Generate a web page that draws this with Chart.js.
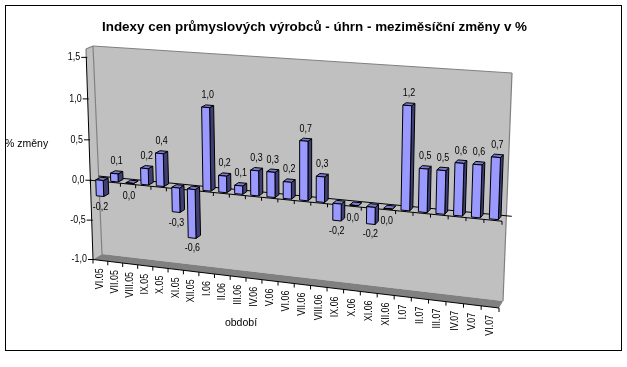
<!DOCTYPE html>
<html lang="cs">
<head>
<meta charset="utf-8">
<title>Indexy cen</title>
<style>html,body{margin:0;padding:0;background:#fff}canvas{display:block}</style>
<script src="https://cdn.jsdelivr.net/npm/chart.js@4"></script>
</head>
<body>
<canvas id="c" width="627" height="367"></canvas>
<script>
const chartTitle = 'Indexy cen průmyslových výrobců - úhrn - meziměsíční změny v %';
const xTitle = 'období';
const yTitle = '% změny';
const categories = ['VI.05','VII.05','VIII.05','IX.05','X.05','XI.05','XII.05','I.06','II.06','III.06','IV.06','V.06','VI.06','VII.06','VIII.06','IX.06','X.06','XI.06','XII.06','I.07','II.07','III.07','IV.07','V.07','VI.07'];
const changes = [-0.2,0.1,0.0,0.2,0.4,-0.3,-0.6,1.0,0.2,0.1,0.3,0.3,0.2,0.7,0.3,-0.2,0.0,-0.2,0.0,1.2,0.5,0.5,0.6,0.6,0.7];
const yMin = -1.0, yMax = 1.6, yStep = 0.5;

const FONT = '"Liberation Sans", Arial, sans-serif';
const FRONT = [[86,49],[507,77],[499,308],[93,259.5]];
const BACK  = [[93,46],[512,73],[503,301],[102,254]];
const BAR_D0 = 0.2, BAR_D1 = 0.8;

function homography(q){
  const [[x0,y0],[x1,y1],[x2,y2],[x3,y3]] = q;
  const dx1=x1-x2, dx2=x3-x2, sx=x0-x1+x2-x3, dy1=y1-y2, dy2=y3-y2, sy=y0-y1+y2-y3;
  const det=dx1*dy2-dx2*dy1;
  const g=(sx*dy2-dx2*sy)/det, h=(dx1*sy-sx*dy1)/det;
  const a=x1-x0+g*x1, b=x3-x0+h*x3, d=y1-y0+g*y1, e=y3-y0+h*y3;
  return (u,v)=>{const w=g*u+h*v+1;return [(a*u+b*v+x0)/w,(d*u+e*v+y0)/w];};
}
const Hf = homography(FRONT), Hb = homography(BACK);
function project(u,v,d){
  const f=Hf(u,v), b=Hb(u,v);
  return [f[0]+(b[0]-f[0])*d, f[1]+(b[1]-f[1])*d];
}
function poly(ctx,pts,fill,stroke,lw){
  ctx.beginPath();
  pts.forEach((p,i)=>i?ctx.lineTo(p[0],p[1]):ctx.moveTo(p[0],p[1]));
  ctx.closePath();
  if(fill){ctx.fillStyle=fill;ctx.fill();}
  if(stroke){ctx.strokeStyle=stroke;ctx.lineWidth=lw||1;ctx.stroke();}
}
function seg(ctx,a,b,color,lw){
  ctx.beginPath();ctx.moveTo(a[0],a[1]);ctx.lineTo(b[0],b[1]);
  ctx.strokeStyle=color;ctx.lineWidth=lw||1;ctx.stroke();
}
function text(ctx,s,x,y,align,size,rot,squeeze){
  ctx.save();
  ctx.translate(x,y);
  if(rot)ctx.rotate(rot);
  if(squeeze)ctx.scale(squeeze,1);
  ctx.font=size+'px '+FONT;
  ctx.fillStyle='#000';
  ctx.textAlign=align;
  ctx.textBaseline='middle';
  ctx.fillText(s,0,0);
  ctx.restore();
}
const fmt = v => v.toFixed(1).replace('.',',');

const scene = {
  id:'scene',
  beforeDraw(chart){
    const c=chart.ctx;
    c.save();
    c.fillStyle='#fff';c.fillRect(0,0,chart.width,chart.height);
    c.strokeStyle='#000';c.lineWidth=1;c.strokeRect(5.5,5.5,616,345);
    c.restore();
  },
  beforeDatasetsDraw(chart){
    const c=chart.ctx, y=chart.scales.y, a=chart.chartArea;
    const vOf=val=>(y.getPixelForValue(val)-a.top)/(a.bottom-a.top);
    const v0=vOf(0), n=categories.length;
    c.save();
    poly(c,BACK,'#C0C0C0');
    poly(c,[Hf(0,0),Hf(0,1),Hb(0,1),Hb(0,0)],'#C0C0C0');
    poly(c,[Hf(0,1),Hf(1,1),Hb(1,1),Hb(0,1)],'#808080');
    const gray='#808080';
    seg(c,Hf(0,0),Hb(0,0),gray,1.2);
    seg(c,Hb(0,0),Hb(1,0),gray,1.2);
    seg(c,Hb(1,0),Hb(1,1),gray,1.2);
    seg(c,Hb(0,0),Hb(0,1),gray,1.2);
    seg(c,Hf(0,0),Hf(0,vOf(1.5)),gray,1.2);
    seg(c,Hf(0,vOf(1.5)),Hf(0,1),'#000',1);
    seg(c,Hf(0,1),Hf(1,1),'#000',1);
    seg(c,project(0,v0,0),project(1,v0,0),'#000',1);
    seg(c,project(0,v0,1),project(1.012,v0,1),'#000',1);
    for(let i=0;i<=n;i++){
      const u=i/n;
      const p=Hf(u,v0), q=Hf(u,1);
      seg(c,p,[p[0],p[1]+3.5],'#000',1);
      seg(c,q,[q[0],q[1]+4],'#000',1);
    }
    y.ticks.forEach(t=>{
      const p=Hf(0,vOf(t.value));
      seg(c,[p[0]-5,p[1]],[p[0]+1,p[1]],'#000',1);
    });
    c.restore();
  },
  beforeDatasetDraw(chart,args){
    const c=chart.ctx, a=chart.chartArea, W=a.right-a.left, H=a.bottom-a.top;
    const toU=x=>(x-a.left)/W, toV=y=>(y-a.top)/H;
    c.save();
    c.lineJoin='round';
    args.meta.data.forEach(el=>{
      const {x,y,base,width}=el.getProps(['x','y','base','width'],true);
      const l=toU(x-width/2), r=toU(x+width/2);
      const t=toV(Math.min(y,base)), b=toV(Math.max(y,base));
      poly(c,[project(r,t,BAR_D0),project(r,b,BAR_D0),project(r,b,BAR_D1),project(r,t,BAR_D1)],'#3F3F73','#000',1);
      poly(c,[project(l,t,BAR_D0),project(r,t,BAR_D0),project(r,t,BAR_D1),project(l,t,BAR_D1)],'#7A7ACC','#000',1);
      poly(c,[project(l,t,BAR_D0),project(r,t,BAR_D0),project(r,b,BAR_D0),project(l,b,BAR_D0)],'#9999FF','#000',1);
    });
    c.restore();
    return false;
  },
  afterDatasetsDraw(chart){
    const c=chart.ctx, a=chart.chartArea, W=a.right-a.left, H=a.bottom-a.top;
    const sx=chart.scales.x, sy=chart.scales.y;
    const toV=y=>(y-a.top)/H;
    const size=10.5, sq=0.85;
    sy.ticks.forEach(t=>{
      const p=Hf(0,toV(sy.getPixelForValue(t.value)));
      text(c,fmt(t.value),p[0]-6,p[1],'right',size,0,sq);
    });
    categories.forEach((name,i)=>{
      const q=Hf((sx.getPixelForValue(i)-a.left)/W,1);
      text(c,name,q[0],q[1]+8,'right',size,-Math.PI/2,sq);
    });
    chart.getDatasetMeta(0).data.forEach((el,i)=>{
      const val=changes[i];
      const {x,y}=el.getProps(['x','y'],true);
      const u=(x-a.left)/W, v=toV(y);
      const p=project(u,v,0.5);
      const off=val>0?-11:(val<0?12:14);
      const dx=val===0?-3:(val<0?-2:0);
      text(c,fmt(val),p[0]+dx,p[1]+off,'center',size,0,sq);
    });
    text(c,yTitle,5,144,'left',10.5);
    text(c,xTitle,241,323,'center',10.5);
  }
};

new Chart(document.getElementById('c'),{
  type:'bar',
  data:{labels:categories,datasets:[{label:yTitle,data:changes,backgroundColor:'#9999FF',barPercentage:0.5,categoryPercentage:1}]},
  plugins:[scene],
  options:{
    responsive:false,
    animation:false,
    layout:{padding:{left:90,right:88,top:0,bottom:60}},
    plugins:{
      legend:{display:false},
      tooltip:{enabled:false},
      title:{display:true,text:chartTitle,color:'#000',font:{family:FONT,size:13.4,weight:'bold'},padding:{top:19,bottom:20}}
    },
    scales:{
      x:{display:false},
      y:{display:false,min:yMin,max:yMax,ticks:{stepSize:yStep,includeBounds:false}}
    }
  }
});
</script>
</body>
</html>
